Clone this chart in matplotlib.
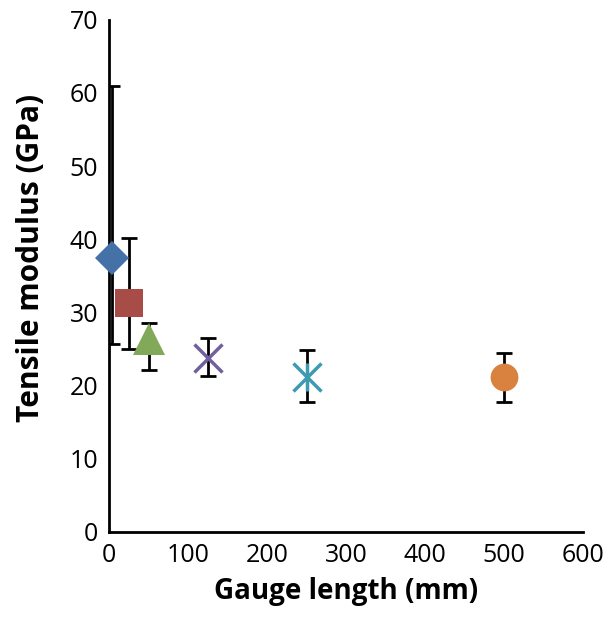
import matplotlib.pyplot as plt

plt.rcParams["font.family"] = ["Open Sans", "DejaVu Sans"]

# gauge length (mm) and tensile modulus (GPa)
gauge = [3, 25, 50, 125, 250, 500]
modulus = [37.5, 31.3, 26.3, 23.8, 21.1, 21.2]
err_low = [11.8, 6.3, 4.2, 2.5, 3.3, 3.4]
err_high = [23.5, 8.8, 2.3, 2.7, 3.8, 3.3]

markers = ["D", "s", "^", "x", "x", "o"]
colors = ["#4472A8", "#A84C48", "#82A95A", "#72609E", "#3E9AB2", "#D9823F"]
sizes = [17, 20, 23, 20, 20, 20]

fig = plt.figure(figsize=(6.1, 6.17), dpi=100)
ax = fig.add_axes([0.179, 0.138, 0.777, 0.830])

for i in range(len(gauge)):
    ax.errorbar(gauge[i], modulus[i], yerr=[[err_low[i]], [err_high[i]]],
                fmt="none", ecolor="black", elinewidth=2, capsize=5.5,
                capthick=2, zorder=2)
    mew = 2.5 if markers[i] == "x" else 0
    ax.plot(gauge[i], modulus[i], marker=markers[i], color=colors[i],
            markersize=sizes[i], markeredgewidth=mew, linestyle="none",
            zorder=3, clip_on=False)
    if i == 4:
        # Excel "star" marker: cross with a vertical stroke
        ax.plot(gauge[i], modulus[i], marker="|", color=colors[i],
                markersize=sizes[i], markeredgewidth=2.5, linestyle="none",
                zorder=3)

ax.set_xlim(0, 600)
ax.set_ylim(0, 70)
ax.set_xticks([0, 100, 200, 300, 400, 500, 600])
ax.set_yticks(range(0, 71, 10))
ax.tick_params(length=0, labelsize=18, pad=8)

for side in ["top", "right"]:
    ax.spines[side].set_visible(False)
for side in ["left", "bottom"]:
    ax.spines[side].set_linewidth(2)

fig.text(346 / 610, 1 - 592 / 617, "Gauge length (mm)", fontsize=20,
         fontweight="bold", ha="center", va="center")
fig.text(31 / 610, 1 - 258 / 617, "Tensile modulus (GPa)", fontsize=21.5,
         fontweight="bold", ha="center", va="center", rotation=90)

fig.savefig("out.png", dpi=100)
